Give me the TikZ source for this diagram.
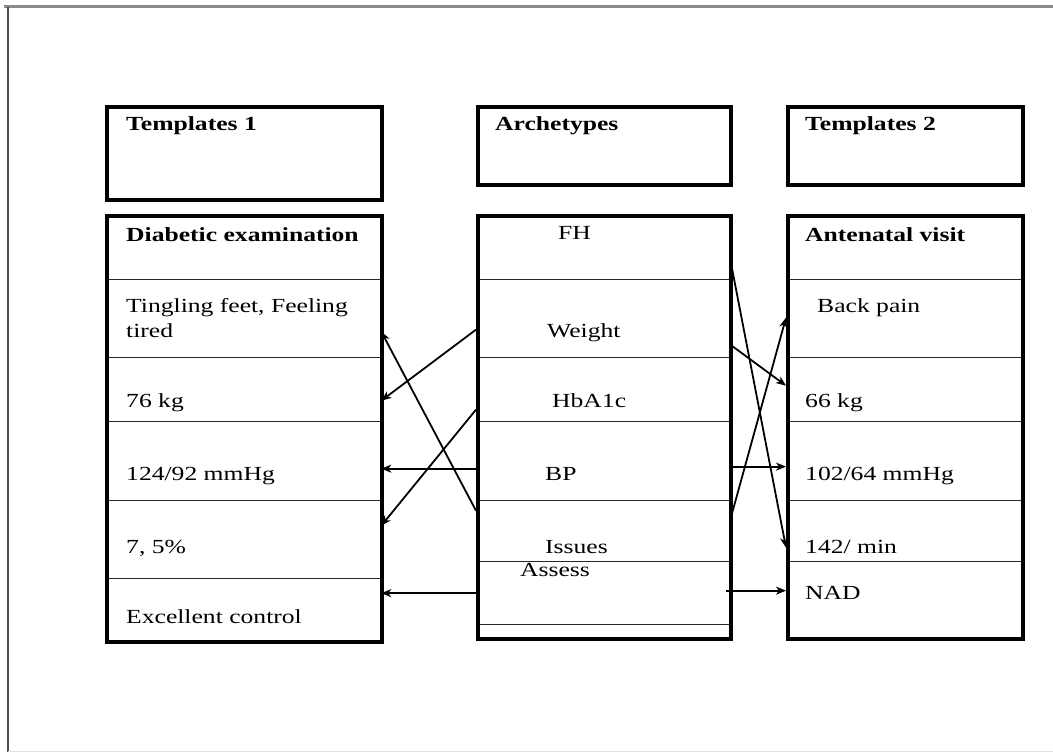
\documentclass[tikz,border=0pt]{standalone}
\usepackage{fontspec}
\setmainfont{Liberation Serif}[FakeStretch=1.28]
\usepackage{tikz}
\usetikzlibrary{arrows.meta,positioning,calc}

\begin{document}
\begin{tikzpicture}[
  x=1pt, y=-1pt,
  cell/.style={draw=black!85, line width=1.3pt, inner sep=0pt, anchor=north west},
  frame/.style={draw=black, line width=3.6pt, inner sep=0pt, anchor=north west},
  lbl/.style={anchor=base west, inner sep=0pt, font=\fontsize{20}{25}\selectfont},
  hd/.style={lbl, font=\fontsize{20}{25}\selectfont\bfseries},
  arr/.style={-{Stealth[length=10pt, width=8pt, inset=3pt]}, line width=1.8pt}
]
\useasboundingbox (0,0) rectangle (1053,752);
% page frame
\draw[black!45, line width=3pt] (4,7) -- (1053,7);
\draw[black!70, line width=2.4pt] (8,7) -- (8,752);
\draw[black!12, line width=1pt] (8,751) -- (1053,751);

% header boxes
\node[frame, minimum width=275pt, minimum height=93pt] (h1) at (105,105) {};
\node[frame, minimum width=253pt, minimum height=78pt] (h2) at (476,105) {};
\node[frame, minimum width=235pt, minimum height=78pt] (h3) at (786,105) {};

% template 1 rows
\node[cell, minimum width=275pt, minimum height=65pt] (l1) at (105,214) {};
\node[cell, minimum width=275pt, minimum height=78pt] (l2) at (105,279) {};
\node[cell, minimum width=275pt, minimum height=64pt] (l3) at (105,357) {};
\node[cell, minimum width=275pt, minimum height=79pt] (l4) at (105,421) {};
\node[cell, minimum width=275pt, minimum height=78pt] (l5) at (105,500) {};
\node[cell, minimum width=275pt, minimum height=62pt] (l6) at (105,578) {};
\node[frame, minimum width=275pt, minimum height=426pt] (lbox) at (105,214) {};

% archetype rows
\node[cell, minimum width=253pt, minimum height=65pt] (mFH) at (476,214) {};
\node[cell, minimum width=253pt, minimum height=78pt] (mW) at (476,279) {};
\node[cell, minimum width=253pt, minimum height=64pt] (mH) at (476,357) {};
\node[cell, minimum width=253pt, minimum height=79pt] (mBP) at (476,421) {};
\node[cell, minimum width=253pt, minimum height=61pt] (mIs) at (476,500) {};
\node[cell, minimum width=253pt, minimum height=63pt] (mAs) at (476,561) {};
\node[cell, minimum width=253pt, minimum height=13pt] (mEnd) at (476,624) {};
\node[frame, minimum width=253pt, minimum height=423pt] (mbox) at (476,214) {};

% template 2 rows
\node[cell, minimum width=235pt, minimum height=65pt] (r1) at (786,214) {};
\node[cell, minimum width=235pt, minimum height=78pt] (r2) at (786,279) {};
\node[cell, minimum width=235pt, minimum height=64pt] (r3) at (786,357) {};
\node[cell, minimum width=235pt, minimum height=79pt] (r4) at (786,421) {};
\node[cell, minimum width=235pt, minimum height=61pt] (r5) at (786,500) {};
\node[cell, minimum width=235pt, minimum height=76pt] (r6) at (786,561) {};
\node[frame, minimum width=235pt, minimum height=423pt] (rbox) at (786,214) {};

% texts
\node[hd] (t1) at (126,131) {Templates 1};
\node[hd] (t2) at (495,130) {Archetypes};
\node[hd] (t3) at (805,130) {Templates 2};
\node[hd] (tDia) at (126,241) {Diabetic examination};
\node[hd] (tAnt) at (805,241) {Antenatal visit};

\node[lbl, anchor=north west, align=left] (tTing) at (126,298) {Tingling feet, Feeling\\tired};
\node[lbl] (tKg1) at (126,407) {76 kg};
\node[lbl] (tBp1) at (126,480) {124/92 mmHg};
\node[lbl] (tHb1) at (126,553) {7, 5\%};
\node[lbl] (tCtl) at (126,623) {Excellent control};

\node[lbl] (aFH) at (558,239) {FH};
\node[lbl] (aW) at (547,337) {Weight};
\node[lbl] (aH) at (552,407) {HbA1c};
\node[lbl] (aBP) at (545,480) {BP};
\node[lbl] (aIs) at (545,553) {Issues};
\node[lbl] (aAs) at (520,576) {Assess};

\node[lbl] (tBack) at (817,312) {Back pain};
\node[lbl] (tKg2) at (805,407) {66 kg};
\node[lbl] (tBp2) at (805,480) {102/64 mmHg};
\node[lbl] (tRate) at (805,553) {142/ min};
\node[lbl] (tNad) at (805,599) {NAD};

% archetypes to template 1
\draw[arr] ([yshift=-11pt]mW.west) -- ([yshift=-11pt]l3.east);
\draw[arr] ([yshift=20.5pt]mIs.west) -- ([yshift=-13pt]l2.east);
\draw[arr] ([yshift=-20pt]mH.west) -- ([yshift=14pt]l5.east);
\draw[arr] ([yshift=-7.5pt]mBP.west) -- ([yshift=-7.5pt]l4.east);
\draw[arr] (mAs.west) -- (mAs.west -| l6.east);

% archetypes to template 2
\draw[arr] ([yshift=-12.5pt]mFH.east) -- ([yshift=-16.5pt]r5.west);
\draw[arr] ([yshift=-26pt]mW.east) -- ([yshift=4pt]r3.west);
\draw[arr] ([yshift=11.5pt]mIs.east) -- ([yshift=1pt]r2.west);
\draw[arr] ([yshift=-5.5pt]mBP.east) -- ([yshift=-5.5pt]mBP.east -| r4.west);
\draw[arr] ([xshift=-4pt,yshift=2.5pt]mAs.east) -- ([yshift=2.5pt]mAs.east -| r6.west);
\end{tikzpicture}
\end{document}
